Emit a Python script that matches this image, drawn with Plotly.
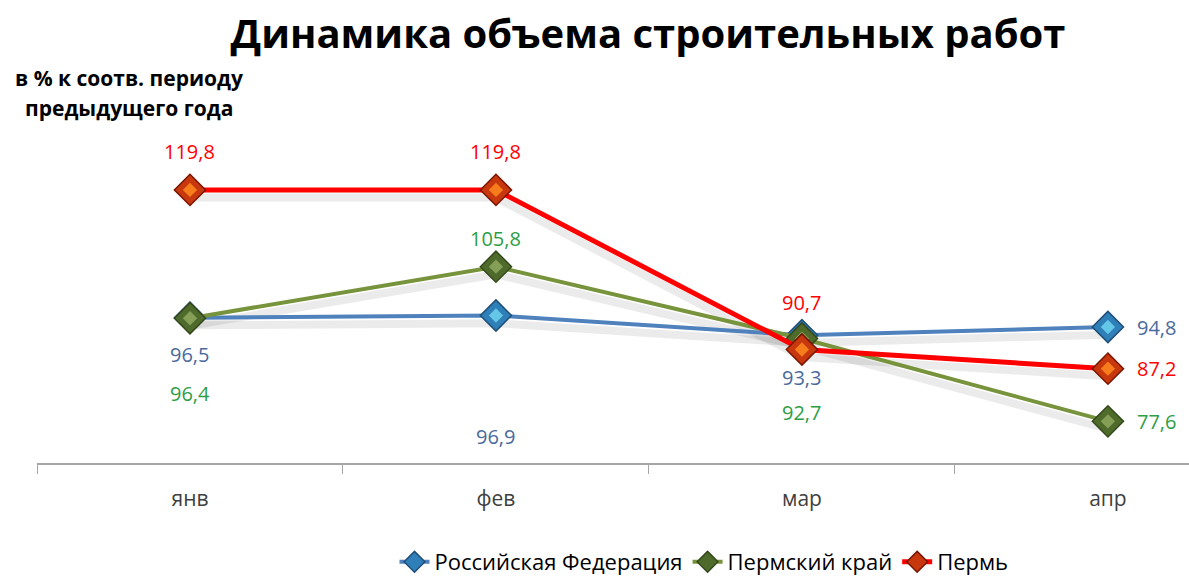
import plotly.graph_objects as go

months = ["янв", "фев", "мар", "апр"]
series_names = ["Российская Федерация", "Пермский край", "Пермь"]
rf_values = [96.5, 96.9, 93.3, 94.8]
pk_values = [96.4, 105.8, 92.7, 77.6]
perm_values = [119.8, 119.8, 90.7, 87.2]

line_colors = ["#4F81BD", "#77933C", "#FF0000"]
marker_colors = ["#2F7FB8", "#4F6B2C", "#C8380E"]
marker_inner = ["#6FD3F0", "#8FA85E", "#FF8A1E"]
marker_edges = ["#1F4E79", "#34491C", "#7A1400"]
label_colors = ["#4A6A9C", "#2E9E44", "#FF0000"]
line_widths = [4, 4, 5]

# label offsets in pixels (xshift, yshift, xanchor) per series per point
label_offsets = [
    [(0, -37, "center"), (0, -121, "center"), (0, -42, "center"), (27, 0, "left")],
    [(0, -75, "center"), (0, 28, "center"), (0, -74, "center"), (27, 0, "left")],
    [(0, 38, "center"), (0, 38, "center"), (0, 47, "center"), (27, 0, "left")],
]

all_values = [rf_values, pk_values, perm_values]
x_idx = list(range(len(months)))

W, H = 1189, 580
ML, MT, MB = 37, 134, 117
PW, PH = W - ML, H - MT - MB

fig = go.Figure()

# soft shadows
for vals in all_values:
    fig.add_trace(go.Scatter(
        x=x_idx, y=[v - 1.4 for v in vals], mode="lines",
        line=dict(color="rgba(0,0,0,0.08)", width=8),
        hoverinfo="skip", showlegend=False))

for name, vals, lc, mc, mi, me, lw in zip(series_names, all_values, line_colors,
                                         marker_colors, marker_inner,
                                         marker_edges, line_widths):
    fig.add_trace(go.Scatter(
        x=x_idx, y=vals, name=name, mode="lines+markers",
        line=dict(color=lc, width=lw),
        marker=dict(symbol="diamond", size=24, color=mc,
                    line=dict(color=me, width=1.5)),
    ))
    fig.add_trace(go.Scatter(
        x=x_idx, y=vals, mode="markers", showlegend=False, hoverinfo="skip",
        marker=dict(symbol="diamond", size=11, color=mi, opacity=0.85,
                    line=dict(width=0)),
    ))

annotations = []
for vals, col, offs in zip(all_values, label_colors, label_offsets):
    for i, v in enumerate(vals):
        dx, dy, xa = offs[i]
        annotations.append(dict(
            x=i, y=v, xref="x", yref="y", xanchor=xa,
            text=f"{v:.1f}".replace(".", ","),
            showarrow=False, xshift=dx, yshift=dy,
            font=dict(family="Open Sans", size=20, color=col),
        ))

for line_text, py in [("в % к соотв. периоду", 78), ("предыдущего года", 108)]:
    annotations.append(dict(
        x=(129 - ML) / PW, y=(H - MB - py) / PH, xref="paper", yref="paper",
        text=f"<b>{line_text}</b>", showarrow=False,
        xanchor="center", yanchor="middle",
        font=dict(family="Open Sans", size=21, color="#000000"),
    ))

fig.update_layout(
    width=W, height=H,
    margin=dict(l=ML, r=0, t=MT, b=MB, autoexpand=False),
    paper_bgcolor="white", plot_bgcolor="white",
    title=dict(text="<b>Динамика объема строительных работ</b>",
               x=648 / W, y=1 - 34 / H, xanchor="center", yanchor="middle",
               xref="container", yref="container",
               font=dict(family="Open Sans", size=40, color="#000000")),
    xaxis=dict(
        tickmode="array", tickvals=x_idx, ticktext=months,
        range=[-0.5, 3.265], showgrid=False, zeroline=False,
        showline=True, linecolor="#A6A6A6", linewidth=1.5,
        ticks="", ticklen=0,
        minor=dict(tick0=-0.5, dtick=1, ticks="outside", ticklen=9,
                   tickcolor="#A6A6A6", tickwidth=1, showgrid=False),
        tickfont=dict(family="Open Sans", size=21, color="#404040"),
        ticklabelstandoff=16,
    ),
    yaxis=dict(range=[70, 130], visible=False, showgrid=False, zeroline=False),
    legend=dict(orientation="h", x=(704 - ML) / PW, xanchor="center",
                y=(H - MB - 562) / PH, yanchor="middle",
                font=dict(family="Open Sans", size=22, color="#000000"),
                traceorder="normal"),
    annotations=annotations,
    showlegend=True,
)

fig.write_html("out.html", config={"displayModeBar": False},
               post_script="document.body.style.margin='0';document.body.style.overflow='hidden';")
